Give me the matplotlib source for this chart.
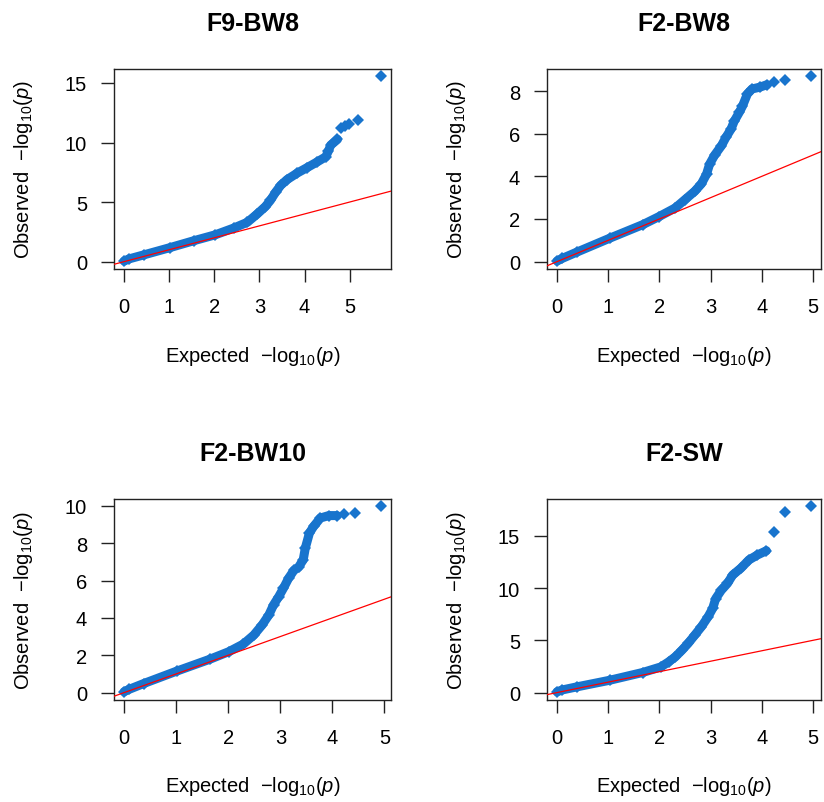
import matplotlib
matplotlib.use("Agg")
import matplotlib.pyplot as plt

plt.rcParams["font.family"] = ["Liberation Sans", "DejaVu Sans"]
plt.rcParams["mathtext.fontset"] = "custom"
plt.rcParams["mathtext.rm"] = "Liberation Sans"
plt.rcParams["mathtext.it"] = "Liberation Sans:italic"
plt.rcParams["mathtext.bf"] = "Liberation Sans:bold"

# Panel titles
titles = ["F9-BW8", "F2-BW8", "F2-BW10", "F2-SW"]

# Dense body of each QQ curve: expected vs observed -log10(p)
f9bw8_exp = [0.0, 0.1, 0.43, 1.02, 1.54, 2.02, 2.43, 2.73, 2.95, 3.13, 3.24,
             3.36, 3.47, 3.61, 3.84, 4.06, 4.28, 4.47, 4.53, 4.58, 4.73]
f9bw8_obs = [0.05, 0.22, 0.56, 1.18, 1.75, 2.25, 2.82, 3.3, 4.0, 4.62, 5.13,
             5.84, 6.4, 6.88, 7.44, 7.9, 8.37, 8.8, 9.3, 9.78, 10.26]
f9bw8_top_exp = [4.8, 4.9, 4.99, 5.19, 5.69]
f9bw8_top_obs = [11.25, 11.39, 11.53, 11.9, 15.55]

f2bw8_exp = [0.0, 0.1, 0.38, 1.03, 1.67, 1.99, 2.31, 2.5, 2.69, 2.82, 2.92,
             2.98, 3.08, 3.21, 3.3, 3.4, 3.46, 3.56, 3.62, 3.72, 3.81, 3.97, 4.1]
f2bw8_obs = [0.03, 0.15, 0.44, 1.1, 1.73, 2.11, 2.52, 2.91, 3.3, 3.65, 4.1,
             4.57, 5.0, 5.43, 5.83, 6.22, 6.58, 7.0, 7.28, 7.87, 8.1, 8.19, 8.3]
f2bw8_top_exp = [4.24, 4.46, 4.96]
f2bw8_top_obs = [8.41, 8.54, 8.69]

f2bw10_exp = [0.0, 0.1, 0.37, 1.01, 1.65, 2.01, 2.29, 2.49, 2.65, 2.78, 2.87,
              2.97, 3.06, 3.16, 3.26, 3.35, 3.44, 3.48, 3.56, 3.64, 3.77, 3.93, 4.09]
f2bw10_obs = [0.05, 0.18, 0.48, 1.15, 1.79, 2.19, 2.6, 3.08, 3.62, 4.16, 4.7,
              5.14, 5.59, 6.13, 6.54, 6.72, 7.11, 7.74, 8.55, 8.9, 9.35, 9.48, 9.48]
f2bw10_top_exp = [4.23, 4.44, 4.93]
f2bw10_top_obs = [9.55, 9.6, 9.97]

f2sw_exp = [0.0, 0.1, 0.38, 1.03, 1.67, 2.03, 2.18, 2.31, 2.44, 2.56, 2.69,
            2.82, 2.95, 3.04, 3.1, 3.21, 3.33, 3.43, 3.59, 3.75, 3.91, 4.09]
f2sw_obs = [0.08, 0.25, 0.54, 1.18, 1.92, 2.46, 2.94, 3.42, 4.06, 4.7, 5.5,
            6.3, 7.25, 8.05, 9.0, 9.8, 10.45, 11.25, 11.9, 12.7, 13.16, 13.58]
f2sw_top_exp = [4.24, 4.46, 4.96]
f2sw_top_obs = [15.4, 17.33, 17.82]

y_ticks = [[0, 5, 10, 15], [0, 2, 4, 6, 8], [0, 2, 4, 6, 8, 10], [0, 5, 10, 15]]
x_ticks = [0, 1, 2, 3, 4, 5]

panels = [
    (f9bw8_exp, f9bw8_obs, f9bw8_top_exp, f9bw8_top_obs),
    (f2bw8_exp, f2bw8_obs, f2bw8_top_exp, f2bw8_top_obs),
    (f2bw10_exp, f2bw10_obs, f2bw10_top_exp, f2bw10_top_obs),
    (f2sw_exp, f2sw_obs, f2sw_top_exp, f2sw_top_obs),
]

W, H = 824, 803
fig = plt.figure(figsize=(W / 100, H / 100), dpi=100)
fig.patch.set_facecolor("white")

# axes boxes in pixels: left, top, right, bottom
boxes = [(114, 70, 391, 270), (547, 70, 821, 270),
         (114, 500, 391, 701), (547, 500, 821, 701)]

point_color = "#1874CD"
base_fs = 14.5
marker_size = 6.3

for i, (box, (ex, ob, tex, tob)) in enumerate(zip(boxes, panels)):
    l, t, r, b = box
    ax = fig.add_axes([l / W, 1 - b / H, (r - l) / W, (b - t) / H])
    pw, ph = r - l, b - t

    ax.plot(ex, ob, color=point_color, lw=6.5, solid_capstyle="round",
            solid_joinstyle="round", marker="D", ms=marker_size, mew=0, zorder=2)
    ax.plot(tex, tob, linestyle="none", color=point_color, marker="D",
            ms=marker_size, mew=0, zorder=2)
    ax.margins(0.04)
    ax.axline((0, 0), slope=1, color="red", lw=0.9, zorder=3)

    ax.set_xticks(x_ticks)
    ax.set_yticks(y_ticks[i])
    ax.tick_params(axis="both", direction="out", length=9.4, width=1.0,
                   color="#222222", labelsize=base_fs, labelcolor="black")
    ax.tick_params(axis="x", pad=11)
    ax.tick_params(axis="y", pad=10)
    for s in ax.spines.values():
        s.set_linewidth(1.0)
        s.set_color("#222222")

    ax.set_xlabel(r"Expected  $-\mathrm{log}_{10}(p)$", fontsize=base_fs)
    ax.set_ylabel(r"Observed  $-\mathrm{log}_{10}(p)$", fontsize=base_fs)
    ax.xaxis.label.set_va("center")
    ax.yaxis.label.set_va("center")
    ax.xaxis.set_label_coords(0.5, -86 / ph)
    ax.yaxis.set_label_coords(-90 / pw, 0.5)

    ax.set_title(titles[i], fontsize=18, fontweight="bold", pad=0,
                 y=1 + 39 / ph)

fig.savefig("out.png", dpi=100, facecolor="white")
